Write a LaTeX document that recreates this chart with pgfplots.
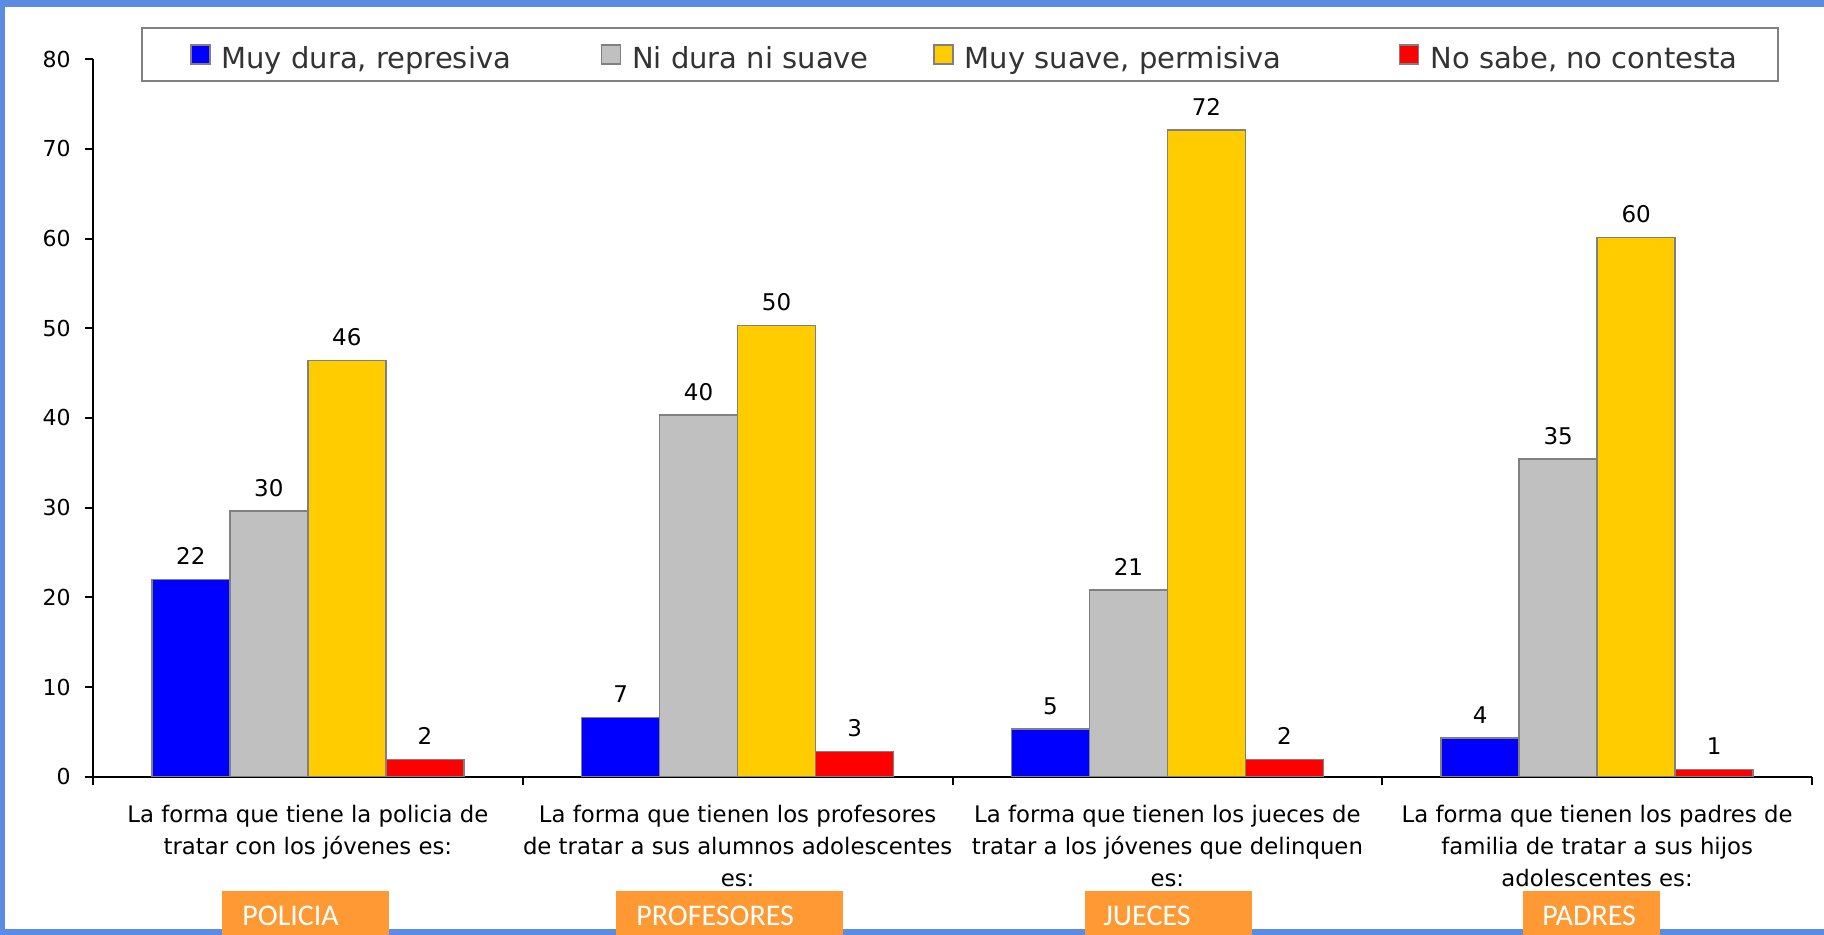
\documentclass[border=0pt]{standalone}
\usepackage{fontspec}
\setmainfont{DejaVu Sans}
\newfontfamily\carlito{Carlito}
\usepackage{pgfplots}
\pgfplotsset{compat=1.18}
\definecolor{frameblue}{RGB}{91,140,228}
\definecolor{barblue}{RGB}{0,0,255}
\definecolor{bargray}{RGB}{192,192,192}
\definecolor{baryellow}{RGB}{255,204,0}
\definecolor{barred}{RGB}{255,0,0}
\definecolor{edgegray}{RGB}{128,128,128}
\definecolor{boxorange}{RGB}{255,153,51}
\definecolor{legtext}{RGB}{51,51,51}
\begin{document}
\begin{tikzpicture}
\useasboundingbox (0,0) rectangle (912pt,467.5pt);
\fill[frameblue] (0,0) rectangle (912pt,467.5pt);
\fill[white] (2.5pt,3pt) rectangle (912pt,464pt);
\begin{axis}[
  at={(46.5pt,79.15pt)}, anchor=south west,
  scale only axis, width=859.5pt, height=358.8pt,
  ybar=0pt, bar width=39pt,
  xmin=-0.5, xmax=3.5, ymin=0, ymax=80,
  ytick={0,10,...,80},
  xtick={0,1,2,3},
  xticklabels={{La forma que tiene la policia de\\tratar con los jóvenes es:},
    {La forma que tienen los profesores\\de tratar a sus alumnos adolescentes\\es:},
    {La forma que tienen los jueces de\\tratar a los jóvenes que delinquen\\es:},
    {La forma que tienen los padres de\\familia de tratar a sus hijos\\adolescentes es:}},
  minor xtick={-0.5,0.5,1.5,2.5,3.5},
  axis lines*=left,
  axis line style={line width=1pt, black, -},
  tick align=outside,
  major tick length=4pt, minor tick length=4pt,
  tick style={line width=1pt, black},
  major x tick style={draw=none},
  xticklabel style={font=\fontsize{11.4}{16}\selectfont, align=center, anchor=north, inner sep=0pt},
  xticklabel shift=10pt,
  yticklabel style={font=\fontsize{11}{13}\selectfont, anchor=east, inner sep=0pt},
  yticklabel shift=7pt,
  /pgf/number format/fixed, /pgf/number format/precision=0,
  /pgf/number format/assume math mode=true,
  nodes near coords,
  nodes near coords style={font=\fontsize{11.5}{13}\selectfont, anchor=south, inner sep=0pt, yshift=7pt, text=black},
  every axis plot/.append style={draw=edgegray, line width=0.8pt},
  legend columns=4,
  legend cell align=left,
  legend style={at={(0.0282,1.0452)}, anchor=north west, draw=edgegray, line width=1pt,
    inner xsep=23.75pt, inner ysep=5.15pt,
    /tikz/every even column/.append style={column sep=0pt},
    column sep=0pt, row sep=0pt,
    font=\fontsize{14.5}{17}\selectfont, text=legtext, nodes={inner sep=0pt}},
  legend image code/.code={\draw[#1,draw=edgegray,line width=0.8pt] (0pt,-4.75pt) rectangle (9.5pt,4.75pt); \path (15pt,0pt);},
]
\addplot[fill=barblue] coordinates {(0,22.0) (1,6.6) (2,5.3) (3,4.3)};
\addlegendentry{\makebox[189.5pt][l]{\rule[-4.5pt]{0pt}{19.6pt}Muy dura, represiva}}
\addplot[fill=bargray] coordinates {(0,29.6) (1,40.3) (2,20.8) (3,35.4)};
\addlegendentry{\makebox[150.5pt][l]{\rule[-4.5pt]{0pt}{19.6pt}Ni dura ni suave}}
\addplot[fill=baryellow] coordinates {(0,46.4) (1,50.3) (2,72.1) (3,60.1)};
\addlegendentry{\makebox[217pt][l]{\rule[-4.5pt]{0pt}{19.6pt}Muy suave, permisiva}}
\addplot[fill=barred] coordinates {(0,1.9) (1,2.8) (2,1.9) (3,0.8)};
\addlegendentry{\makebox[150.25pt][l]{\rule[-4.5pt]{0pt}{19.6pt}No sabe, no contesta}}
\end{axis}
\fill[boxorange] (111pt,0) rectangle (194.5pt,22pt);
\fill[boxorange] (308pt,0) rectangle (421.5pt,22pt);
\fill[boxorange] (542.5pt,0) rectangle (626pt,22pt);
\fill[boxorange] (761.5pt,0) rectangle (830pt,22pt);
\begin{scope}[every node/.style={anchor=base west, inner sep=0pt, text=white, font=\carlito\fontsize{15}{18}\selectfont}]
\node at (121pt,4.65pt) {POLICIA};
\node at (318pt,4.65pt) {PROFESORES};
\node at (551.5pt,4.65pt) {JUECES};
\node at (771pt,4.65pt) {PADRES};
\end{scope}
\end{tikzpicture}
\end{document}
